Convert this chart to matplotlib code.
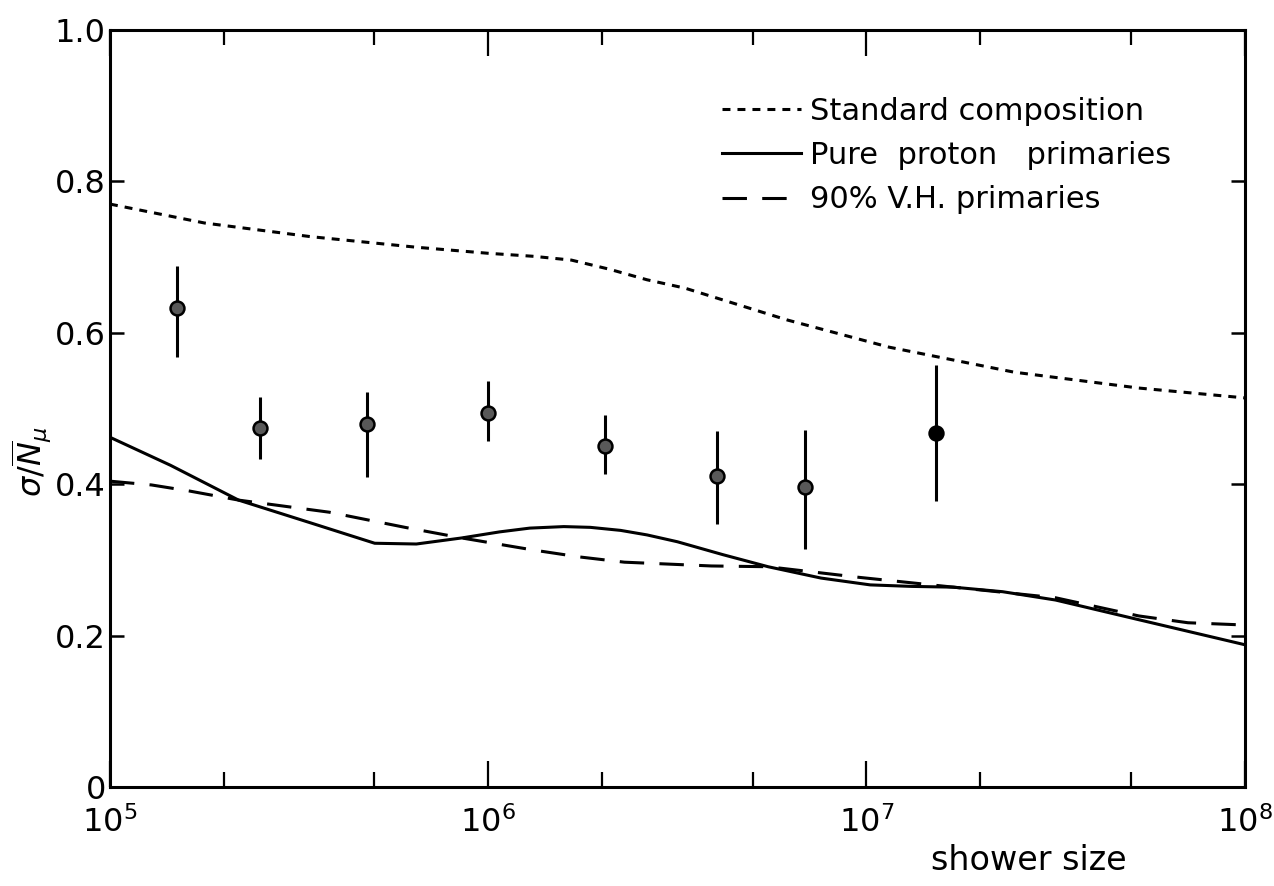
import numpy as np
import matplotlib
matplotlib.use('Agg')
import matplotlib.pyplot as plt
from matplotlib.ticker import FixedLocator, FuncFormatter, NullFormatter
from matplotlib.lines import Line2D

# curves: exponent of shower size, sigma/N_mu
std_logx = [5.0, 5.25, 5.53, 5.81, 6.0, 6.12, 6.22, 6.32, 6.42, 6.52, 6.79, 7.06, 7.39, 7.72, 8.0]
std_y = [0.770, 0.745, 0.727, 0.713, 0.705, 0.701, 0.696, 0.684, 0.670, 0.659, 0.617, 0.581, 0.548, 0.527, 0.514]

proton_logx = [5.0, 5.16, 5.34, 5.53, 5.70, 5.81, 5.93, 6.03, 6.11, 6.20, 6.27, 6.35, 6.42, 6.50, 6.62, 6.74, 6.88, 7.01, 7.12, 7.23, 7.36, 7.50, 7.72, 8.0]
proton_y = [0.462, 0.425, 0.379, 0.349, 0.322, 0.321, 0.329, 0.337, 0.342, 0.344, 0.343, 0.339, 0.333, 0.324, 0.307, 0.291, 0.276, 0.267, 0.265, 0.264, 0.258, 0.247, 0.221, 0.188]

vh_logx = [5.0, 5.11, 5.21, 5.34, 5.58, 5.78, 5.93, 6.12, 6.24, 6.36, 6.59, 6.74, 6.98, 7.23, 7.50, 7.72, 7.85, 8.0]
vh_y = [0.404, 0.399, 0.391, 0.379, 0.363, 0.343, 0.329, 0.313, 0.304, 0.297, 0.292, 0.291, 0.277, 0.264, 0.250, 0.226, 0.217, 0.214]

# measured points
pt_x = [1.50e5, 2.49e5, 4.79e5, 1.0e6, 2.04e6, 4.03e6, 6.9e6, 1.53e7]
pt_y = [0.633, 0.474, 0.480, 0.494, 0.450, 0.411, 0.396, 0.468]
err_lo = [0.065, 0.041, 0.070, 0.037, 0.037, 0.064, 0.082, 0.090]
err_hi = [0.055, 0.041, 0.042, 0.042, 0.041, 0.059, 0.076, 0.089]
filled = [False, False, False, False, False, False, False, True]

labels = ['Standard composition', 'Pure  proton   primaries', '90% V.H. primaries']

plt.rcParams['font.family'] = ['DejaVu Sans']
plt.rcParams['mathtext.fontset'] = 'dejavusans'

fig = plt.figure(figsize=(12.74, 8.86), dpi=100)
ax = fig.add_axes([0.0863, 0.1117, 0.8907, 0.8545])

lw = 2.2
ax.plot(10 ** np.array(std_logx), std_y, color='black', lw=lw,
        linestyle=(0, (2.6, 2.3)))
ax.plot(10 ** np.array(proton_logx), proton_y, color='black', lw=lw)
ax.plot(10 ** np.array(vh_logx), vh_y, color='black', lw=lw,
        linestyle=(0, (8, 5)))

for x, y, lo, hi, f in zip(pt_x, pt_y, err_lo, err_hi, filled):
    ax.errorbar([x], [y], yerr=[[lo], [hi]], fmt='o', color='black',
                ecolor='black', elinewidth=2.2, capsize=0, markersize=10,
                markerfacecolor='black' if f else '0.35',
                markeredgecolor='black', markeredgewidth=1.8)

ax.set_xscale('log')
ax.set_xlim(1e5, 1e8)
ax.set_ylim(0, 1.0)

ax.xaxis.set_major_locator(FixedLocator([1e5, 1e6, 1e7, 1e8]))
ax.xaxis.set_minor_locator(FixedLocator([2e5, 5e5, 2e6, 5e6, 2e7, 5e7]))
ax.xaxis.set_minor_formatter(NullFormatter())
ax.xaxis.set_major_formatter(FuncFormatter(lambda v, p: r'$10^{%d}$' % round(np.log10(v))))
ax.set_yticks([0, 0.2, 0.4, 0.6, 0.8, 1.0])
ax.yaxis.set_major_formatter(FuncFormatter(lambda v, p: '0' if v == 0 else '%.1f' % v))

ax.tick_params(axis='x', which='major', direction='in', length=19, width=1.6,
               top=True, labelsize=23, pad=14)
ax.tick_params(axis='x', which='minor', direction='in', length=11, width=1.6, top=True)
ax.tick_params(axis='y', which='major', direction='in', length=10, width=1.8,
               right=True, labelsize=23, pad=3)
for s in ax.spines.values():
    s.set_linewidth(2.2)

ax.set_xlabel('shower size', fontsize=24)
ax.xaxis.set_label_coords(0.81, -0.075)
ax.set_ylabel(r'$\sigma/\overline{N}_{\mu}$', fontsize=23)
ax.yaxis.set_label_coords(-0.05, 0.43)

handles = [
    Line2D([], [], color='black', lw=lw, linestyle=(0, (2.6, 2.3))),
    Line2D([], [], color='black', lw=lw),
    Line2D([], [], color='black', lw=lw, linestyle=(0, (8, 5))),
]
ax.legend(handles, labels, loc='upper left', bbox_to_anchor=(0.515, 0.948),
          frameon=False, fontsize=22, handlelength=2.6, handletextpad=0.3,
          labelspacing=0.5)

fig.savefig('out.png', dpi=100)
